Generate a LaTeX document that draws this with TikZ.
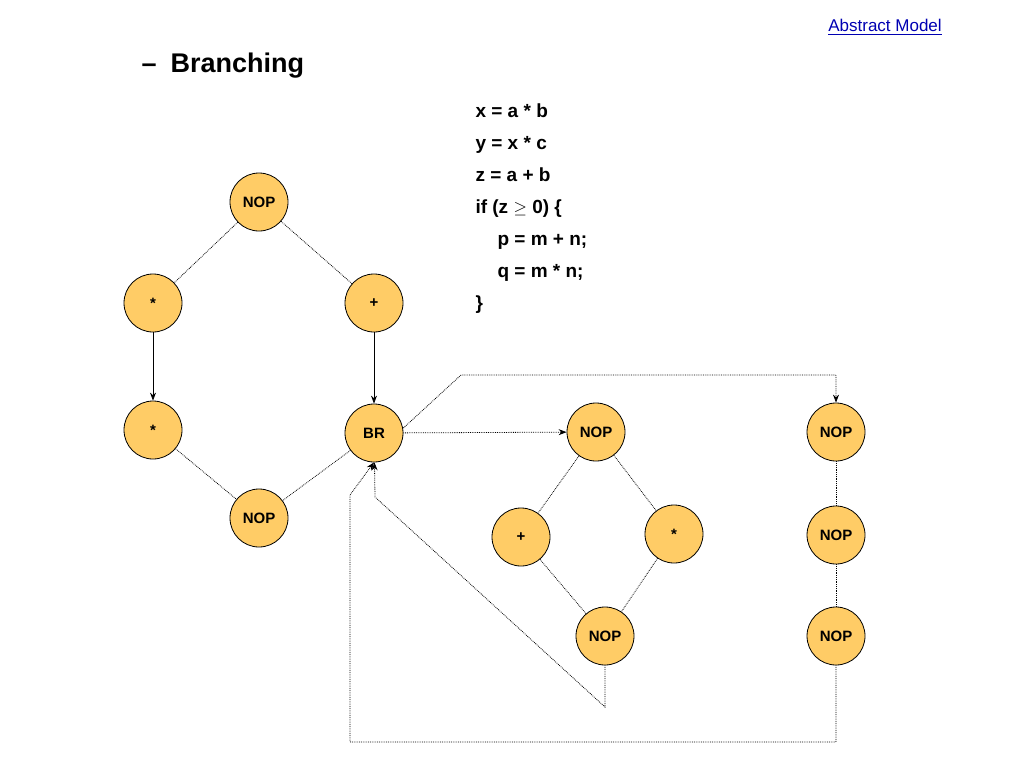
\documentclass[tikz,border=0pt]{standalone}
\usepackage{fontspec}
\setmainfont{Liberation Sans}
\usepackage{amssymb}
\usetikzlibrary{arrows.meta}
\definecolor{nodefill}{HTML}{FFCC66}
\begin{document}
\begin{tikzpicture}[x=1pt,y=-1pt,
  n/.style={circle,draw,thick,fill=nodefill,minimum size=58pt,inner sep=0pt,font=\fontsize{15}{18}\bfseries\selectfont},
  dl/.style={densely dotted,thick},
  ar/.style={-{Stealth[length=8pt,width=6pt]}},
  sl/.style={thick}]
\useasboundingbox (0,0) rectangle (1024,768);
\node[text=blue!70!black,font=\fontsize{17}{20}\selectfont] (am) at (885,27) {\underline{Abstract Model}};
\node[anchor=west,font=\fontsize{27}{32}\bfseries\selectfont] (title) at (138,66) {–\hspace{14pt}Branching};
\node[anchor=north west,align=left,font=\fontsize{19}{32}\bfseries\selectfont] (code) at (472,100) {x = a * b\\ y = x * c\\ z = a + b\\ if (z $\geq$ 0) \{\\ \hspace{22pt}p = m + n;\\ \hspace{22pt}q = m * n;\\ \}};
\node[n] (n1) at (259,202) {NOP};
\node[n] (m1) at (153,303) {*};
\node[n] (p1) at (374,303) {+};
\node[n] (m2) at (153,430) {*};
\node[n] (br) at (374,433) {BR};
\node[n] (n2) at (259,518) {NOP};
\node[n] (n3) at (596,432) {NOP};
\node[n] (p2) at (521,537) {+};
\node[n] (m3) at (674,534) {*};
\node[n] (n4) at (605,636) {NOP};
\node[n] (r1) at (836,432) {NOP};
\node[n] (r2) at (836,535) {NOP};
\node[n] (r3) at (836,636) {NOP};
\coordinate (c1) at (461,375);
\coordinate (c2) at (836,375);
\coordinate (c3) at (605,707);
\coordinate (c4) at (375,497);
\coordinate (c5) at (836,742);
\coordinate (c6) at (350,742);
\coordinate (c7) at (350,495);
\draw[dl] (n1)--(m1); \draw[dl] (n1)--(p1);
\draw[sl,ar] (m1)--(m2); \draw[sl,ar] (p1)--(br);
\draw[dl] (m2)--(n2); \draw[dl] (br)--(n2);
\draw[dl,ar] (br)--(n3);
\draw[dl] (n3)--(p2); \draw[dl] (n3)--(m3);
\draw[dl] (p2)--(n4); \draw[dl] (m3)--(n4);
\draw[dl] (r1)--(r2); \draw[dl] (r2)--(r3);
\draw[dl,ar] (br.east)++(0,-5) coordinate (b0) (b0)--(c1)--(c2)--(r1);
\draw[dl,ar] (n4)--(c3)--(c4)--(br);
\draw[dl,ar] (r3)--(c5)--(c6)--(c7)--(br.south);
\end{tikzpicture}
\end{document}
